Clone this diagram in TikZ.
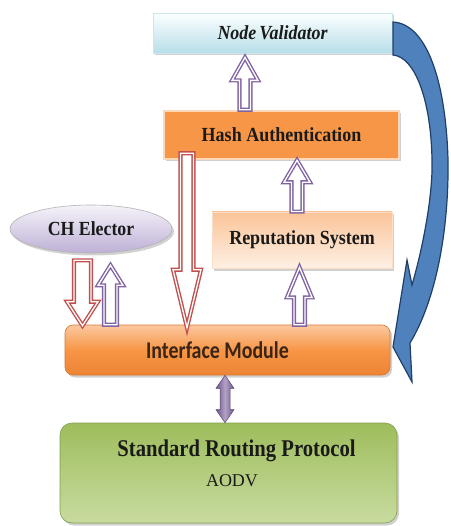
\documentclass[tikz,border=0pt]{standalone}
\usepackage{fontspec}
\setmainfont{Liberation Serif}
\newfontfamily\calfont{Carlito}
\usetikzlibrary{calc,shapes.geometric,shadows}
\definecolor{arrred}{HTML}{C0504D}
\definecolor{arrpurple}{HTML}{8064A2}
\definecolor{blueA}{HTML}{4F81BD}
\definecolor{blueD}{HTML}{1F3F66}
\definecolor{txt}{HTML}{1A1A1A}
\definecolor{iftxt}{HTML}{3A2418}
% vertical block arrow: style, start, end, shaft half, head half, head length
\newcommand{\vblock}[6]{%
  \path[#1] let \p1=(#2), \p2=(#3), \n1={sign(\y2-\y1)} in
    ({\x1-#4},\y1) -- ({\x1-#4},{\y2-(\n1)*#6}) -- ({\x1-#5},{\y2-(\n1)*#6}) -- (\x1,\y2)
    -- ({\x1+#5},{\y2-(\n1)*#6}) -- ({\x1+#4},{\y2-(\n1)*#6}) -- ({\x1+#4},\y1) -- cycle;}
% vertical double-headed block arrow
\newcommand{\dblock}[6]{%
  \path[#1] let \p1=(#2), \p2=(#3), \n1={sign(\y2-\y1)} in
    (\x1,\y1) -- ({\x1+#5},{\y1+(\n1)*#6}) -- ({\x1+#4},{\y1+(\n1)*#6})
    -- ({\x1+#4},{\y2-(\n1)*#6}) -- ({\x1+#5},{\y2-(\n1)*#6}) -- (\x1,\y2)
    -- ({\x1-#5},{\y2-(\n1)*#6}) -- ({\x1-#4},{\y2-(\n1)*#6})
    -- ({\x1-#4},{\y1+(\n1)*#6}) -- ({\x1-#5},{\y1+(\n1)*#6}) -- cycle;}
\newcommand{\sqz}[2]{\scalebox{#1}[1]{#2}}
\begin{document}
\begin{tikzpicture}[x=1pt,y=-1pt,
  boxshadow/.style={drop shadow={shadow xshift=2pt,shadow yshift=-2.5pt,opacity=0.3,fill=black!60}},
  basebox/.style={rectangle,inner sep=0pt,text=txt,boxshadow},
  nvbox/.style={basebox,minimum width=239pt,minimum height=40pt,top color=white!90!cyan!10,bottom color={rgb,255:red,183;green,222;blue,232},draw={rgb,255:red,205;green,230;blue,236},line width=0.8pt},
  hashbox/.style={basebox,minimum width=235pt,minimum height=48pt,fill={rgb,255:red,247;green,150;blue,70},draw={rgb,255:red,252;green,215;blue,184},line width=2.5pt},
  repbox/.style={basebox,minimum width=180pt,minimum height=56pt,top color={rgb,255:red,250;green,196;blue,152},bottom color={rgb,255:red,254;green,240;blue,228},draw={rgb,255:red,252;green,222;blue,200},line width=0.8pt},
  chbox/.style={ellipse,inner sep=0pt,minimum width=162pt,minimum height=48pt,text=txt,top color={rgb,255:red,246;green,243;blue,250},bottom color={rgb,255:red,190;green,176;blue,214},draw=black!30,line width=0.6pt,boxshadow},
  ifbox/.style={basebox,rounded corners=8pt,minimum width=325pt,minimum height=50pt,top color={rgb,255:red,251;green,200;blue,160},bottom color={rgb,255:red,236;green,132;blue,52},middle color={rgb,255:red,247;green,150;blue,70},draw={rgb,255:red,214;green,120;blue,50},line width=0.6pt},
  srpbox/.style={basebox,rounded corners=12pt,minimum width=337pt,minimum height=100pt,top color={rgb,255:red,158;green,189;blue,92},bottom color={rgb,255:red,200;green,219;blue,160},draw={rgb,255:red,130;green,158;blue,74},line width=0.6pt},
  lbl/.style={text=txt,inner sep=0pt},
  hred/.style={fill=white,draw=arrred,line width=1.4pt,double=white,double distance=1.3pt,line join=miter},
  hpurple/.style={fill=white,draw=arrpurple,line width=1.4pt,double=white,double distance=1.3pt,line join=miter},
  spurple/.style={left color=arrpurple!85!black,right color=arrpurple!85!black,middle color=arrpurple!60!white,draw=arrpurple!70!black,line width=0.5pt},
  bluearrow/.style={fill=blueA,draw=blueD,line width=1.2pt,line join=miter}
]
\useasboundingbox (0,0) rectangle (450,526);

% nodes
\node[nvbox] (nv) at (272.5,33) {\sqz{0.9}{\fontsize{20}{22}\selectfont\bfseries\itshape Node\,Validator}};
\node[hashbox] (hash) at (281.5,135) {\sqz{0.9}{\fontsize{20}{22}\selectfont\bfseries Hash Authentication}};
\node[repbox] (rep) at (302,240) {\raisebox{5pt}{\sqz{0.9}{\fontsize{20}{22}\selectfont\bfseries Reputation System}}};
\node[chbox] (ch) at (91,229) {\sqz{0.89}{\fontsize{20}{22}\selectfont\bfseries CH Elector}};
\node[ifbox] (iface) at (227.5,350) {\hspace*{-20pt}\sqz{0.83}{\color{iftxt}\calfont\bfseries\fontsize{24}{26}\selectfont Interface\ Module}};
\node[srpbox] (srp) at (228.5,473) {};
\node[lbl] (srptitle) at (236.5,451) {\sqz{0.86}{\fontsize{24}{26}\selectfont\bfseries Standard Routing Protocol}};
\node[lbl] (aodv) at (232,481) {\fontsize{18}{20}\selectfont AODV};

% hollow block arrows
\vblock{hpurple}{[xshift=-36.5pt]hash.north}{[yshift=-4pt]nv.south}{5.5}{13}{23}
\vblock{hred}{[xshift=-94.5pt,yshift=7pt]hash.south}{[yshift=-3pt]iface.north}{6.5}{14}{58}
\vblock{hpurple}{[xshift=-5pt]rep.north}{hash.south}{5.5}{13}{22}
\vblock{hred}{[xshift=-8.5pt,yshift=-7pt]ch.south}{[yshift=-1pt]iface.north}{8.5}{15.5}{24}
\vblock{hpurple}{[xshift=-117pt]iface.north}{[yshift=-12pt]ch.south}{6.5}{12.5}{20}
\vblock{hpurple}{[xshift=72pt]iface.north}{[yshift=1pt]rep.south}{5.5}{12.5}{30}

% double arrow
\dblock{spurple}{[xshift=-2.5pt]iface.south}{srp.north}{5}{9}{13}

% blue curved arrow from Node Validator back to Interface Module
\path[bluearrow] (393,22)
  .. controls (428,24) and (446,85) .. (448,160)
  .. controls (449,230) and (436,300) .. (410,343)
  -- (412,382) -- (393,347) -- (407,260) -- (412,285)
  .. controls (425,240) and (433,190) .. (432,160)
  .. controls (431,100) and (415,57) .. (393,55) -- cycle;
\end{tikzpicture}
\end{document}
